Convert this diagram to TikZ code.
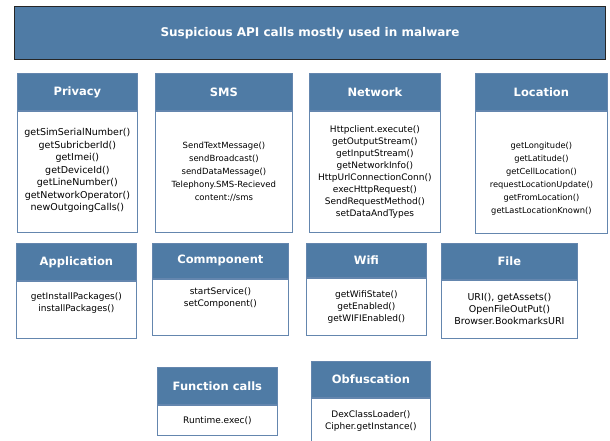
\documentclass[tikz,border=0pt]{standalone}
\usepackage{fontspec}
\setmainfont{DejaVu Sans}
\usepackage{xcolor}
\usetikzlibrary{positioning}

\definecolor{headblue}{RGB}{79,123,165}
\definecolor{lineblue}{RGB}{100,134,174}

\tikzset{
    head/.style={draw=lineblue, fill=headblue, text=white, anchor=north west, inner sep=0pt, line width=0.8pt, font=\bfseries\fontsize{11.5}{13}\selectfont},
    calls/.style={draw=lineblue, fill=white, inner sep=0pt, line width=0.8pt, align=center, font=\fontsize{9}{12}\selectfont}
}

\begin{document}
\begin{tikzpicture}[x=1pt, y=-1pt]
            \useasboundingbox (0, 0) rectangle (610, 440);
            \node[head, draw=black!85, line width=1pt, minimum width=591pt, minimum height=53pt, font=\bfseries\fontsize{12}{14}\selectfont] (title) at (14, 6) {Suspicious API calls mostly used in malware};

            % first row
            \node[head, minimum width=120pt, minimum height=37pt] (privacy) at (17, 73) {Privacy};
            \node[calls, minimum width=120pt, minimum height=121pt, font=\fontsize{9.5}{12.5}\selectfont, below=0pt of privacy] (privacycalls) {getSimSerialNumber()\\getSubricberId()\\getImei()\\getDeviceId()\\getLineNumber()\\getNetworkOperator()\\newOutgoingCalls()\\[-8pt]};
            \node[head, minimum width=137pt, minimum height=37pt] (sms) at (155, 73) {SMS};
            \node[calls, minimum width=137pt, minimum height=121pt, font=\fontsize{8.5}{13}\selectfont, below=0pt of sms] (smscalls) {SendTextMessage()\\sendBroadcast()\\sendDataMessage()\\Telephony.SMS-Recieved\\content://sms};
            \node[head, minimum width=131pt, minimum height=37pt] (network) at (309, 73) {Network};
            \node[calls, minimum width=131pt, minimum height=121pt, below=0pt of network] (networkcalls) {Httpclient.execute()\\getOutputStream()\\getInputStream()\\getNetworkInfo()\\HttpUrlConnectionConn()\\execHttpRequest()\\SendRequestMethod()\\setDataAndTypes};
            \node[head, minimum width=132pt, minimum height=37pt] (location) at (475, 73) {Location};
            \node[calls, minimum width=132pt, minimum height=122pt, font=\fontsize{8.3}{13}\selectfont, below=0pt of location] (locationcalls) {getLongitude()\\getLatitude()\\getCellLocation()\\requestLocationUpdate()\\getFromLocation()\\getLastLocationKnown()\\[-24pt]};

            % second row
            \node[head, minimum width=120pt, minimum height=37pt] (application) at (16, 243) {Application};
            \node[calls, minimum width=120pt, minimum height=57pt, below=0pt of application] (applicationcalls) {getInstallPackages()\\installPackages()\\[4pt]};
            \node[head, minimum width=136pt, minimum height=35pt] (component) at (152, 243) {Commponent};
            \node[calls, minimum width=136pt, minimum height=56pt, below=0pt of component] (componentcalls) {startService()\\setComponent()\\[8pt]};
            \node[head, minimum width=120pt, minimum height=34pt] (wifi) at (306, 243) {Wifi};
            \node[calls, minimum width=120pt, minimum height=57pt, below=0pt of wifi] (wificalls) {getWifiState()\\getEnabled()\\getWIFIEnabled()};
            \node[head, minimum width=136pt, minimum height=36pt] (file) at (441, 243) {File};
            \node[calls, minimum width=136pt, minimum height=58pt, font=\fontsize{9.5}{12}\selectfont, below=0pt of file] (filecalls) {URI(), getAssets()\\OpenFileOutPut()\\Browser.BookmarksURI};

            % third row
            \node[head, minimum width=120pt, minimum height=37pt] (function) at (157, 367) {Function calls};
            \node[calls, minimum width=120pt, minimum height=30pt, below=0pt of function] (functioncalls) {Runtime.exec()};
            \node[head, minimum width=119pt, minimum height=36pt] (obfuscation) at (311, 361) {Obfuscation};
            \node[calls, minimum width=119pt, minimum height=45pt, below=0pt of obfuscation] (obfuscationcalls) {DexClassLoader()\\Cipher.getInstance()};
        \end{tikzpicture}
\end{document}
